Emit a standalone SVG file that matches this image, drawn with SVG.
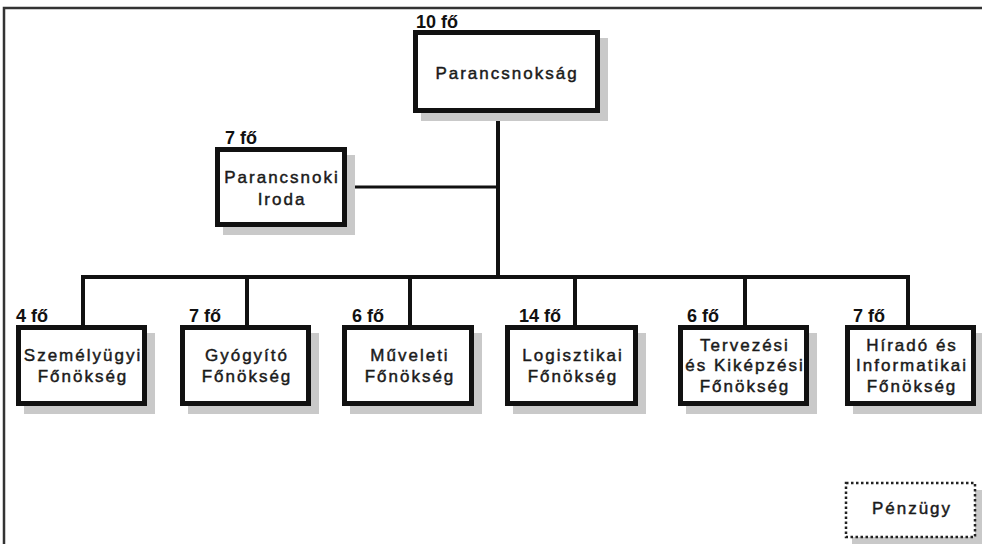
<svg xmlns="http://www.w3.org/2000/svg" width="982" height="544" viewBox="0 0 982 544">
  <style>
    .box { fill: #ffffff; stroke: #111111; stroke-width: 5; }
    .shadow { fill: #c9c9c9; }
    .dotted { fill: #ffffff; stroke: #222222; stroke-width: 2.5; stroke-dasharray: 2.5 2.5; }
    .lbl { font-family: "Liberation Sans", Arial, sans-serif; font-size: 17px; letter-spacing: 2px; fill: #1a1a1a; stroke: #1a1a1a; stroke-width: 0.45; text-anchor: middle; }
    .cnt { font-family: "Liberation Sans", Arial, sans-serif; font-size: 18px; font-weight: bold; fill: #111111; }
    .conn line { stroke: #111111; }
    .frame { stroke: #333333; stroke-width: 2.5; fill: none; }
  </style>
  <rect x="0" y="0" width="982" height="544" fill="#ffffff"/>
  <polyline class="frame" points="4,544 4,8 982,8"/>

  <g id="connectors" class="conn">
    <line x1="498" y1="112" x2="498" y2="279" stroke-width="4"/>
    <line x1="346" y1="187" x2="498" y2="187" stroke-width="3"/>
    <line x1="81" y1="277" x2="910" y2="277" stroke-width="4"/>
    <line x1="83" y1="277" x2="83" y2="326" stroke-width="4"/>
    <line x1="247" y1="277" x2="247" y2="326" stroke-width="4"/>
    <line x1="410" y1="277" x2="410" y2="326" stroke-width="4"/>
    <line x1="575" y1="277" x2="575" y2="326" stroke-width="4"/>
    <line x1="745" y1="277" x2="745" y2="326" stroke-width="4"/>
    <line x1="908" y1="277" x2="908" y2="326" stroke-width="4"/>
  </g>

  <g id="parancsnoksag">
    <rect class="shadow" x="421" y="38" width="187" height="83"/>
    <rect class="box" x="415.5" y="32.5" width="182" height="78"/>
    <text class="lbl" x="507" y="79">Parancsnokság</text>
    <text class="cnt" x="416" y="28">10 fő</text>
  </g>

  <g id="parancsnoki-iroda">
    <rect class="shadow" x="223" y="155" width="132" height="80"/>
    <rect class="box" x="217.5" y="149.5" width="127" height="75"/>
    <text class="lbl" x="282" y="183">Parancsnoki</text>
    <text class="lbl" x="282" y="205">Iroda</text>
    <text class="cnt" x="225" y="144">7 fő</text>
  </g>

  <g id="szemelyugyi">
    <rect class="shadow" x="24" y="333" width="131" height="81"/>
    <rect class="box" x="18.5" y="327.5" width="126" height="76"/>
    <text class="lbl" x="83" y="361">Személyügyi</text>
    <text class="lbl" x="83" y="382">Főnökség</text>
    <text class="cnt" x="16" y="322">4 fő</text>
  </g>

  <g id="gyogyito">
    <rect class="shadow" x="188" y="333" width="131" height="81"/>
    <rect class="box" x="182.5" y="327.5" width="126" height="76"/>
    <text class="lbl" x="247" y="361">Gyógyító</text>
    <text class="lbl" x="247" y="382">Főnökség</text>
    <text class="cnt" x="189" y="322">7 fő</text>
  </g>

  <g id="muveleti">
    <rect class="shadow" x="350" y="333" width="132" height="81"/>
    <rect class="box" x="344.5" y="327.5" width="127" height="76"/>
    <text class="lbl" x="410" y="361">Műveleti</text>
    <text class="lbl" x="410" y="382">Főnökség</text>
    <text class="cnt" x="352" y="322">6 fő</text>
  </g>

  <g id="logisztikai">
    <rect class="shadow" x="513" y="333" width="133" height="81"/>
    <rect class="box" x="507.5" y="327.5" width="128" height="76"/>
    <text class="lbl" x="573" y="361">Logisztikai</text>
    <text class="lbl" x="573" y="382">Főnökség</text>
    <text class="cnt" x="519" y="322">14 fő</text>
  </g>

  <g id="tervezesi">
    <rect class="shadow" x="686" y="333" width="131" height="81"/>
    <rect class="box" x="680.5" y="327.5" width="126" height="76"/>
    <text class="lbl" x="745" y="351">Tervezési</text>
    <text class="lbl" x="745" y="371">és Kiképzési</text>
    <text class="lbl" x="745" y="392">Főnökség</text>
    <text class="cnt" x="687" y="322">6 fő</text>
  </g>

  <g id="hirado">
    <rect class="shadow" x="853" y="333" width="131" height="81"/>
    <rect class="box" x="847.5" y="327.5" width="126" height="76"/>
    <text class="lbl" x="912" y="351">Híradó és</text>
    <text class="lbl" x="912" y="371">Informatikai</text>
    <text class="lbl" x="912" y="392">Főnökség</text>
    <text class="cnt" x="853" y="322">7 fő</text>
  </g>

  <g id="penzugy">
    <rect class="shadow" x="852" y="490" width="131" height="56"/>
    <rect class="dotted" x="846" y="483" width="129" height="54"/>
    <text class="lbl" x="912" y="514">Pénzügy</text>
  </g>
</svg>
